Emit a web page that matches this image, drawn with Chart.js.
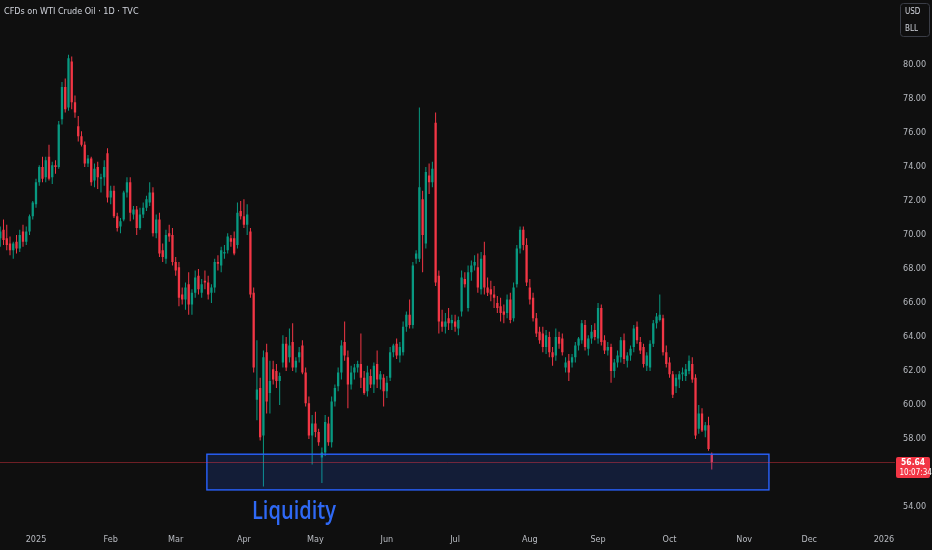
<!DOCTYPE html>
<html>
<head>
<meta charset="utf-8">
<script src="https://cdn.jsdelivr.net/npm/chart.js@4.4.1/dist/chart.umd.min.js"></script>
<style>
html,body{margin:0;padding:0;background:#0f0f0f;overflow:hidden;}
#wrap{width:932px;height:550px;position:relative;}
</style>
</head>
<body>
<div id="wrap"><canvas id="c" width="932" height="550"></canvas></div>
<script>
// ---- DATA (daily candles, bar index 0 = first session of 2025) ----
const startIndex = -11;
const opens = [
 69.8,70.3,69.8,69.5,69.1,69.6,69.2,70.2,69.6,70.2,
 71.1,71.8,73.1,74.0,73.4,74.6,73.4,74.1,74.0,76.8,
 78.7,77.5,80.2,77.8,76.4,75.8,75.3,74.2,74.5,73.2,
 74.0,73.3,73.4,74.8,72.2,72.6,71.1,70.5,70.9,72.5,
 73.1,71.2,71.5,70.4,71.2,71.6,71.9,72.5,70.1,70.9,
 69.1,68.6,70.1,70.0,68.4,68.1,66.5,66.2,67.1,65.9,
 66.6,67.6,66.6,67.3,67.2,66.6,66.9,68.4,68.2,68.9,
 69.1,69.8,69.8,69.4,71.4,71.1,70.6,70.2,66.6,60.3,
 61.0,58.2,63.1,60.7,62.1,62.0,61.4,62.5,63.6,62.8,
 63.7,62.2,62.8,63.5,61.9,60.1,58.2,58.9,58.4,56.9,
 57.2,58.9,57.8,60.2,61.1,61.9,63.7,62.8,61.2,61.9,
 62.2,62.4,61.6,60.8,61.7,61.2,62.4,61.5,61.6,60.8,
 61.6,63.1,63.6,62.9,63.1,64.6,65.3,64.7,68.6,68.6,
 72.1,69.5,73.5,73.1,76.6,67.6,64.9,64.6,65.1,64.8,
 64.9,64.5,65.5,67.4,65.7,67.8,68.2,68.1,66.8,68.8,
 66.9,66.8,66.5,66.0,65.8,65.5,65.4,66.2,65.1,67.1,
 69.2,70.3,69.4,66.9,66.3,65.1,64.3,64.2,63.4,64.0,
 63.1,62.9,64.0,63.9,62.2,62.6,62.5,62.8,63.5,63.8,
 64.7,63.3,63.9,64.4,63.9,65.7,63.8,63.2,63.4,62.0,
 62.5,62.8,63.8,62.6,62.9,63.4,64.6,63.7,63.4,62.3,
 62.2,63.6,64.8,65.0,65.1,63.1,62.5,61.8,61.1,61.5,
 61.8,61.7,62.0,62.4,61.6,58.6,59.5,58.5,58.8,57.1
];
const highs = [
 70.5,70.9,70.6,69.9,69.6,70.0,70.3,70.6,70.5,71.2,
 72.0,73.3,74.1,74.6,74.6,75.3,74.3,74.4,76.7,79.0,
 79.2,80.6,80.5,78.2,77.0,76.1,75.5,74.7,74.6,74.2,
 74.3,73.6,74.4,75.1,72.9,72.9,71.3,71.0,72.6,73.4,
 73.4,71.7,71.7,71.6,71.9,72.3,73.1,72.8,71.2,71.3,
 69.5,70.3,70.6,70.4,68.7,68.4,66.9,67.2,67.8,66.8,
 67.9,68.0,67.4,67.9,67.6,67.1,68.6,68.8,69.3,69.4,
 70.1,70.0,70.2,71.9,72.0,72.1,71.8,70.4,66.9,63.8,
 61.6,63.2,63.6,62.6,62.6,62.4,61.9,64.1,64.0,64.5,
 64.8,62.8,63.4,63.8,62.2,60.5,59.4,59.6,58.6,57.5,
 59.4,59.3,60.5,61.2,62.2,63.8,64.9,63.2,62.3,62.4,
 62.6,64.2,62.0,62.3,62.1,62.5,63.2,62.0,61.8,61.7,
 63.4,63.6,63.9,63.7,64.9,65.5,66.2,68.4,69.1,77.5,
 72.6,74.0,74.2,74.3,77.2,67.9,65.6,65.4,65.7,65.3,
 65.3,65.2,67.9,67.8,68.2,68.5,68.8,68.9,69.0,69.6,
 67.5,67.3,67.0,66.4,66.3,65.9,66.5,66.6,67.2,69.4,
 70.5,70.5,69.8,67.4,66.6,65.4,64.6,64.6,64.4,64.3,
 63.4,64.5,64.3,64.2,62.8,63.0,63.0,63.7,64.0,65.0,
 65.0,64.1,64.7,64.8,66.0,65.9,64.1,63.7,63.6,62.7,
 63.2,64.0,64.2,63.1,63.5,64.7,64.9,64.0,63.6,63.1,
 63.8,65.0,65.4,66.5,65.3,63.5,62.8,62.0,61.8,62.0,
 62.2,62.4,62.9,62.8,61.8,60.0,59.8,59.0,59.3,57.2
];
const lows = [
 69.3,69.4,69.1,68.8,68.6,68.9,69.0,69.3,69.4,70.0,
 70.9,71.6,72.9,73.1,73.1,73.2,73.0,73.6,73.9,76.5,
 77.2,77.3,77.4,76.9,75.5,75.2,74.0,74.0,72.9,72.8,
 72.7,72.5,72.9,71.9,71.8,71.0,70.2,70.1,70.8,72.2,
 70.8,70.9,70.0,70.3,71.0,71.4,71.7,69.9,69.8,68.7,
 68.4,68.3,69.6,68.2,67.6,65.8,65.9,65.6,65.3,65.3,
 66.3,66.5,66.3,66.8,66.2,66.0,66.6,67.9,67.8,68.6,
 68.9,69.3,68.8,69.2,70.9,70.4,70.0,66.3,61.9,59.1,
 57.9,55.2,59.5,59.5,61.2,61.0,60.0,62.2,62.0,62.5,
 62.0,61.9,62.5,61.8,59.9,58.0,56.5,58.1,57.6,55.4,
 57.0,57.6,57.5,59.9,60.8,61.5,62.6,59.8,60.9,61.5,
 61.9,61.0,60.6,60.5,61.0,60.7,61.0,60.9,59.9,60.4,
 61.4,62.8,62.7,62.5,62.9,64.3,64.5,64.5,68.3,68.4,
 67.8,69.2,72.4,72.8,67.0,64.2,64.3,64.2,64.4,64.4,
 64.3,64.1,65.2,66.9,65.5,67.3,67.9,66.6,66.5,66.5,
 66.4,66.1,65.7,65.4,64.9,64.8,65.1,64.8,64.9,66.9,
 68.9,69.1,67.0,65.9,64.9,64.0,63.6,63.1,63.0,62.8,
 62.3,62.6,63.3,62.9,61.9,61.4,62.2,62.5,63.2,63.6,
 63.2,62.9,63.6,63.8,63.6,63.5,63.0,62.9,61.3,61.6,
 62.2,62.5,62.4,62.2,62.6,63.1,63.6,63.0,62.2,62.0,
 62.0,63.4,64.5,64.9,62.9,62.2,61.6,60.4,60.7,61.0,
 61.4,61.4,61.8,61.3,58.0,58.3,58.4,58.1,57.3,56.2
];
const closes = [
 70.2,69.7,69.4,69.1,69.5,69.2,70.0,69.6,70.2,71.1,
 71.9,73.1,74.0,73.3,74.4,73.3,74.1,74.0,76.5,78.7,
 77.4,80.4,77.8,77.2,75.8,75.3,74.2,74.5,73.1,73.9,
 73.4,73.4,74.0,72.2,72.6,71.1,70.4,70.8,72.5,73.1,
 71.3,71.5,70.4,71.2,71.6,72.1,72.5,70.1,70.9,68.9,
 68.7,70.0,69.9,68.4,67.9,66.3,66.2,66.9,65.9,66.6,
 67.5,66.8,67.1,67.2,66.5,66.9,68.4,68.3,69.1,69.0,
 69.9,69.6,68.9,71.3,71.1,70.6,71.2,66.5,62.2,60.9,
 58.1,62.8,60.2,61.4,61.5,61.4,61.7,63.6,62.2,63.5,
 62.2,62.6,63.1,61.9,60.1,58.2,58.9,58.4,57.8,57.2,
 59.0,57.8,60.2,61.0,61.9,63.5,62.9,61.2,61.9,62.2,
 62.4,61.6,60.7,61.9,61.2,62.3,61.5,61.8,60.8,61.3,
 63.1,63.5,62.9,63.4,64.6,65.3,64.7,68.2,68.9,72.8,
 70.0,73.7,73.1,73.9,67.2,64.9,64.6,64.9,64.8,65.0,
 64.6,65.0,67.5,67.1,67.8,68.2,68.4,66.9,68.6,66.9,
 66.6,66.5,66.3,65.7,65.4,65.3,66.2,65.0,66.9,69.2,
 70.3,69.4,67.2,66.2,65.1,64.2,63.8,63.4,64.1,63.1,
 62.8,64.0,63.6,63.1,62.5,61.9,62.8,63.5,63.9,64.8,
 63.4,63.9,64.3,64.0,65.7,63.7,63.2,63.4,62.0,62.5,
 62.9,63.8,62.7,62.9,63.3,64.5,63.8,63.2,62.4,62.9,
 63.6,64.8,65.2,65.3,63.1,62.4,61.8,60.6,61.6,61.8,
 61.9,62.1,62.6,61.5,58.2,59.5,58.5,58.8,57.4,56.64
];
const monthTicks = [
 [2025,0,'2025'],[2025,1,'Feb'],[2025,2,'Mar'],[2025,3,'Apr'],[2025,4,'May'],[2025,5,'Jun'],
 [2025,6,'Jul'],[2025,7,'Aug'],[2025,8,'Sep'],[2025,9,'Oct'],[2025,10,'Nov'],[2025,11,'Dec'],[2026,0,'2026']
];
const priceTicks = [54,58,60,62,64,66,68,70,72,74,76,78,80];
const titleText = 'CFDs on WTI Crude Oil · 1D · TVC';
const currencyText = ['USD','BLL'];
const countdownText = '10:07:34';
const zone = {fromIdx: 52.6, toIdx: 225.6, top: 57.1, bottom: 55.0};
const zoneLabel = {text: 'Liquidity', idx: 79.4, price: 53.3};
const view = {xMin: -11.08, xMax: 264.4, yMin: 53.9, yMax: 83.82};

// ---- STYLE ----
const BG = '#0f0f0f', UP = '#089981', DOWN = '#f23645', AXIS = '#b8bbc1';
const NARROW = "'Liberation Sans Narrow', 'DejaVu Sans Condensed', 'Liberation Sans', sans-serif";

function weekdayIndex(y, m, d) {
  const base = Date.UTC(2025, 0, 1), t = Date.UTC(y, m, d);
  let n = 0;
  if (t >= base) { for (let k = base; k < t; k += 86400000) { const wd = new Date(k).getUTCDay(); if (wd !== 0 && wd !== 6) n++; } }
  else { for (let k = t; k < base; k += 86400000) { const wd = new Date(k).getUTCDay(); if (wd !== 0 && wd !== 6) n--; } }
  return n;
}
const tickIdx = monthTicks.map(t => ({value: weekdayIndex(t[0], t[1], 1), label: t[2]}));
const tickLabel = {};
tickIdx.forEach(t => tickLabel[t.value] = t.label);

const idx = opens.map((_, i) => startIndex + i);
const colorAt = c => (closes[c.dataIndex] >= opens[c.dataIndex] ? UP : DOWN);

const overlay = {
  id: 'overlay',
  beforeDraw(chart) {
    const ctx = chart.ctx;
    ctx.save(); ctx.fillStyle = BG; ctx.fillRect(0, 0, chart.width, chart.height); ctx.restore();
  },
  afterDatasetsDraw(chart) {
    const {ctx, scales: {x, y}, chartArea} = chart;
    ctx.save();
    // liquidity zone
    const x1 = x.getPixelForValue(zone.fromIdx), x2 = x.getPixelForValue(zone.toIdx);
    const y1 = y.getPixelForValue(zone.top), y2 = y.getPixelForValue(zone.bottom);
    ctx.fillStyle = 'rgba(41,98,255,0.17)';
    ctx.fillRect(x1, y1, x2 - x1, y2 - y1);
    ctx.strokeStyle = '#2962ff'; ctx.lineWidth = 1.4;
    ctx.strokeRect(x1, y1, x2 - x1, y2 - y1);
    // last price line
    const last = closes[closes.length - 1];
    const py = Math.round(y.getPixelForValue(last)) + 0.5;
    ctx.strokeStyle = 'rgba(242,54,69,0.42)'; ctx.lineWidth = 1;
    ctx.beginPath(); ctx.moveTo(0, py); ctx.lineTo(chartArea.right, py); ctx.stroke();
    ctx.restore();
  },
  afterDraw(chart) {
    const {ctx, scales: {x, y}, chartArea} = chart;
    ctx.save();
    // title
    ctx.fillStyle = '#d1d4dc'; ctx.font = '9px ' + NARROW; ctx.textBaseline = 'middle'; ctx.textAlign = 'left';
    ctx.fillText(titleText, 4, 12);
    // currency box
    ctx.strokeStyle = '#3a3d46'; ctx.lineWidth = 1;
    ctx.beginPath(); ctx.roundRect(900.5, 3.5, 29, 33, 3); ctx.stroke();
    ctx.fillStyle = '#d1d4dc'; ctx.font = '8px ' + NARROW;
    ctx.fillText(currencyText[0], 905, 12);
    ctx.fillText(currencyText[1], 905, 29);
    // price label
    const last = closes[closes.length - 1];
    const py = Math.round(y.getPixelForValue(last));
    ctx.fillStyle = DOWN;
    ctx.beginPath(); ctx.roundRect(chartArea.right + 1, py - 5, 34, 21, 2); ctx.fill();
    ctx.fillStyle = '#ffffff'; ctx.font = 'bold 8.5px ' + NARROW;
    ctx.fillText(last.toFixed(2), chartArea.right + 6, py + 1);
    ctx.font = '8px ' + NARROW;
    ctx.fillText(countdownText, chartArea.right + 4.5, py + 11);
    // Liquidity label
    const lx = x.getPixelForValue(zoneLabel.idx), ly = y.getPixelForValue(zoneLabel.price);
    ctx.font = "600 26px 'Open Sans', 'Noto Sans', sans-serif";
    const w = ctx.measureText(zoneLabel.text).width;
    ctx.translate(lx, ly);
    ctx.scale(84 / w, 1);
    ctx.fillStyle = '#2f69f5'; ctx.textAlign = 'center'; ctx.textBaseline = 'alphabetic';
    ctx.fillText(zoneLabel.text, 0, 0);
    ctx.restore();
  }
};

new Chart(document.getElementById('c'), {
  type: 'bar',
  data: {
    datasets: [
      { label: 'wick', data: idx.map((v, i) => ({x: v, y: [lows[i], highs[i]]})),
        backgroundColor: colorAt, barThickness: 1, grouped: false, order: 2, inflateAmount: 0, borderWidth: 0 },
      { label: 'body', data: idx.map((v, i) => ({x: v, y: [opens[i], closes[i]]})),
        backgroundColor: colorAt, barThickness: 2.3, minBarLength: 1, grouped: false, order: 1, inflateAmount: 0, borderWidth: 0 }
    ]
  },
  options: {
    responsive: false, animation: false,
    layout: {padding: 0},
    plugins: {legend: {display: false}, tooltip: {enabled: false}},
    scales: {
      x: {
        type: 'linear', min: view.xMin, max: view.xMax, offset: false,
        grid: {display: false, drawTicks: false}, border: {display: false},
        afterBuildTicks: s => { s.ticks = tickIdx.map(t => ({value: t.value})); },
        ticks: {autoSkip: false, maxRotation: 0, padding: 26, color: AXIS, font: {family: NARROW, size: 9},
                callback: v => tickLabel[v] ?? ''},
        afterFit: s => { s.height = 41.4; s.paddingLeft = 0; s.paddingRight = 0; }
      },
      y: {
        position: 'right', min: view.yMin, max: view.yMax,
        grid: {display: false, drawTicks: false}, border: {display: false},
        afterBuildTicks: s => { s.ticks = priceTicks.map(v => ({value: v})); },
        ticks: {padding: 8, color: AXIS, font: {family: NARROW, size: 9}, callback: v => Number(v).toFixed(2)},
        afterFit: s => { s.width = 37; s.paddingTop = 0; s.paddingBottom = 0; }
      }
    }
  },
  plugins: [overlay]
});
</script>
</body>
</html>
